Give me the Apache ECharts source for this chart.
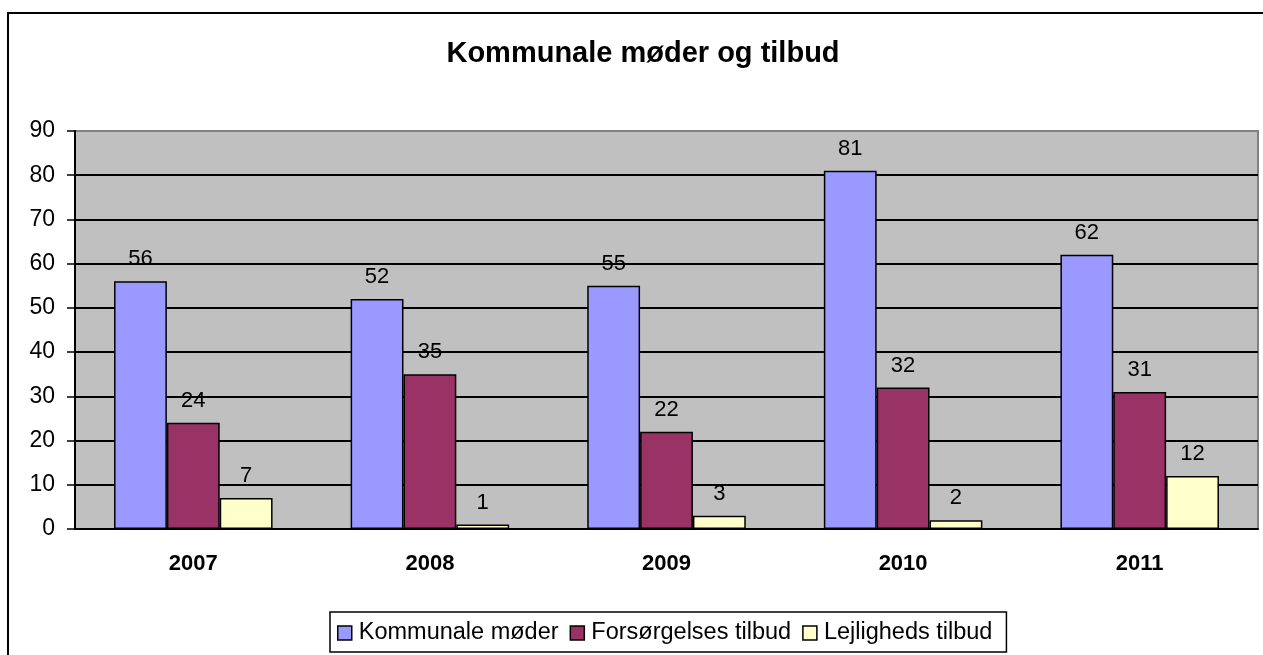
<!DOCTYPE html>
<html>
<head>
<meta charset="utf-8">
<script src="https://cdn.jsdelivr.net/npm/echarts@6/dist/echarts.min.js"></script>
<style>
  html, body { margin: 0; padding: 0; background: #fff; }
  #main { width: 1263px; height: 655px; }
</style>
</head>
<body>
<div id="main"></div>
<script>
const years = ['2007', '2008', '2009', '2010', '2011'];
const kommunaleMoeder = [56, 52, 55, 81, 62];
const forsoergelsesTilbud = [24, 35, 22, 32, 31];
const lejlighedsTilbud = [7, 1, 3, 2, 12];
const seriesNames = ['Kommunale møder', 'Forsørgelses tilbud', 'Lejligheds tilbud'];
const seriesColors = ['#9999FF', '#993366', '#FFFFCC'];

const font = '"Liberation Sans", Arial, sans-serif';
const chart = echarts.init(document.getElementById('main'));

// gitterlinjer sorte, øverste grå som rammen
const gridColors = ['#000', '#000', '#000', '#000', '#000', '#000', '#000', '#000', '#000', '#808080'];

function makeSeries(name, data, color) {
  return {
    name: name,
    type: 'bar',
    data: data,
    barGap: '0%',
    barCategoryGap: '33%',
    itemStyle: { color: color, borderColor: '#000', borderWidth: 1.5 },
    label: {
      show: true,
      position: 'top',
      distance: 11,
      color: '#000',
      fontSize: 22,
      fontFamily: font,
    },
  };
}

chart.setOption({
  backgroundColor: '#fff',
  animation: false,
  title: {
    text: 'Kommunale møder og tilbud',
    left: 638,
    top: 34,
    textAlign: 'center',
    textStyle: { fontSize: 29, fontWeight: 'bold', fontFamily: font, color: '#000' },
  },
  graphic: [{
    type: 'rect',
    shape: { x: 8, y: 13, width: 1300, height: 700 },
    style: { fill: 'none', stroke: '#000', lineWidth: 2 },
    z: 100,
  }],
  legend: {
    data: seriesNames,
    left: 330,
    top: 612,
    padding: [9, 14, 7, 7],
    itemGap: 11,
    itemWidth: 14,
    itemHeight: 14,
    icon: 'rect',
    borderColor: '#000',
    borderWidth: 1.5,
    itemStyle: { borderColor: '#000', borderWidth: 1.5 },
    textStyle: { fontSize: 23.5, fontFamily: font, color: '#000', padding: [0, 0, 0, 2] },
  },
  grid: {
    left: 75,
    right: 5,
    top: 131,
    bottom: 126,
    show: true,
    backgroundColor: '#C0C0C0',
    borderColor: '#808080',
    borderWidth: 2,
  },
  xAxis: {
    type: 'category',
    data: years,
    axisLine: { lineStyle: { color: '#000', width: 2 } },
    axisTick: { show: false },
    axisLabel: {
      margin: 24,
      fontSize: 22,
      fontWeight: 'bold',
      fontFamily: font,
      color: '#000',
    },
  },
  yAxis: {
    type: 'value',
    min: 0,
    max: 90,
    interval: 10,
    axisLine: { show: true, lineStyle: { color: '#000', width: 2 } },
    axisTick: { show: true, length: 8, lineStyle: { color: '#000', width: 1.5 } },
    axisLabel: { margin: 20, fontSize: 23, fontFamily: font, color: '#000' },
    splitLine: { lineStyle: { color: gridColors, width: 2 } },
  },
  series: [
    makeSeries(seriesNames[0], kommunaleMoeder, seriesColors[0]),
    makeSeries(seriesNames[1], forsoergelsesTilbud, seriesColors[1]),
    makeSeries(seriesNames[2], lejlighedsTilbud, seriesColors[2]),
  ],
});
</script>
</body>
</html>
